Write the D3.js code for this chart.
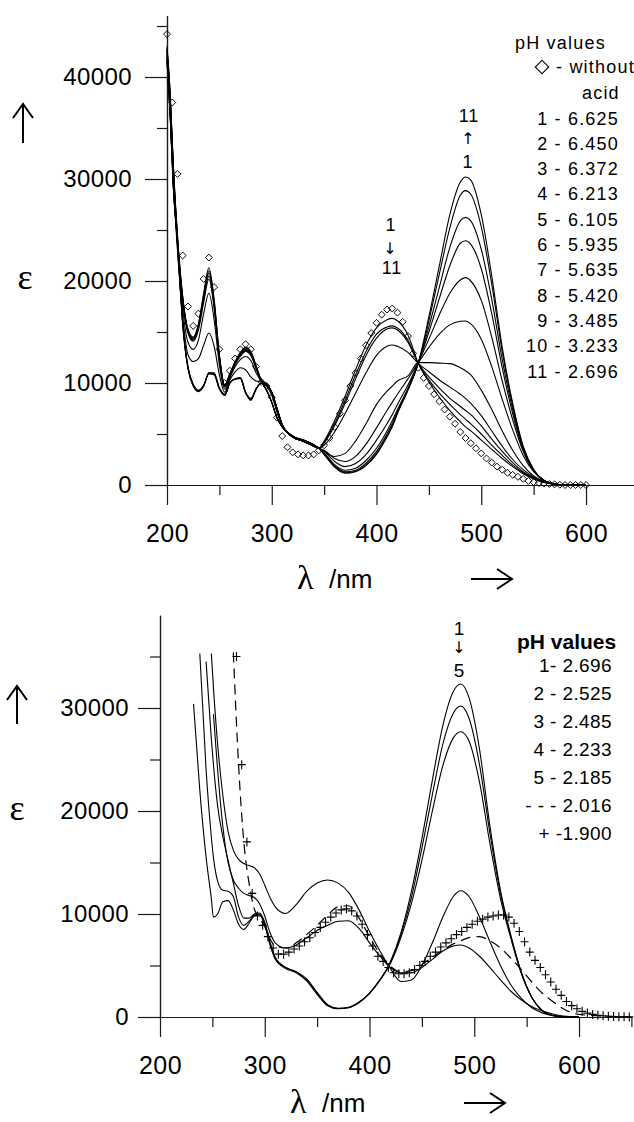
<!DOCTYPE html>
<html><head><meta charset="utf-8">
<script src="https://cdnjs.cloudflare.com/ajax/libs/d3/7.8.5/d3.min.js"></script>
<style>body{margin:0;background:#fff}svg{display:block}</style>
</head><body>
<svg id="c" width="634" height="1122"></svg>
<script>
// ---------------- TOP CHART DATA ----------------
const topWavelengths = [200,203,206,210,215,220,225,230,235,240,245,250,255,260,265,270,275,280,285,290,295,300,305,310,320,330,340,345,
  350,360,370,380,390,400,410,415,420,430,440,450,460,470,480,485,490,500,510,520,530,540,550,560,570,580,590,600];
const top1 = [43000,38500,31500,24500,18500,15300,14500,15800,18800,21300,18200,12800,9800,10900,12100,13000,13500,13100,11700,10300,9900,9100,7500,5900,4700,4300,3800,3600,
  4300,6300,8700,11300,13700,15400,16200,16340,16100,14700,11900,10100,8600,7300,6200,5700,5300,4400,3500,2600,1800,1100,600,250,80,0,0,0];
const top2 = [42800,38300,31300,24300,18400,15200,14400,15700,18600,21000,18000,12700,9800,10900,12000,12900,13400,13000,11700,10300,9900,9100,7500,5900,4700,4300,3800,3600,
  4200,6000,8300,10800,13100,14800,15500,15600,15400,14200,11900,10300,9000,7900,6900,6450,6000,5000,3900,2900,1950,1200,650,280,90,0,0,0];
const top3 = [42700,38200,31200,24200,18300,15100,14300,15600,18400,20800,17800,12600,9800,10800,12000,12800,13300,12900,11600,10300,9900,9100,7500,5900,4700,4300,3800,3600,
  4100,5800,8000,10400,12700,14400,15300,15400,15200,14000,11900,10600,9500,8500,7700,7300,6900,5800,4500,3300,2200,1300,700,300,100,0,0,0];
const top4 = [42600,38000,31000,24000,18200,15000,14200,15400,18200,20500,17600,12500,9700,10700,11900,12700,13200,12800,11500,10200,9900,9100,7500,5900,4700,4300,3800,3600,
  3900,5200,7000,9000,11000,12700,13600,13730,13600,13000,11900,11100,10300,9600,8900,8500,8000,6800,5300,3800,2500,1500,800,350,120,0,0,0];
const top5 = [42400,37800,30800,23800,18000,14900,14100,15200,17900,20200,17300,12300,9600,10700,11800,12600,13100,12700,11400,10200,9900,9100,7500,5900,4700,4300,3800,3600,
  3300,2800,3100,4300,6000,7900,9200,9700,10200,10700,12000,12000,11950,11900,11500,11200,10800,9300,7400,5300,3400,1900,900,350,100,0,0,0];
const top6 = [42200,37300,30300,23300,17300,14000,13300,14200,16800,18800,16200,11800,9400,10500,11600,12300,12600,12200,11000,10200,9800,9000,7300,5900,4800,4400,3900,3600,
  3400,2600,2300,2800,4000,5600,7300,8100,8900,10400,12000,13500,14800,15700,16050,16080,15800,14300,11600,8400,5400,2900,1300,450,100,0,0,0];
const top7 = [42000,37000,29800,23000,16500,12800,12100,12400,13700,14900,13600,10800,9100,10300,11100,11500,11300,10600,10200,10100,9700,8800,7100,5800,4800,4400,3900,3600,
  3300,2300,1800,2100,3000,4400,6000,6900,7900,9800,12000,14300,16700,18800,20100,20330,20000,18100,14500,10200,6400,3300,1400,450,100,0,0,0];
const top8 = [41800,36500,29500,24000,16000,11600,9900,9300,9800,10900,10800,9500,8900,10000,10400,10450,9100,8500,9400,10000,9300,8100,6600,5700,4750,4400,3950,3600,
  3150,2000,1450,1650,2400,3600,5300,6300,7400,9500,12000,15000,18300,21500,23700,23950,23600,21200,16800,11500,7000,3500,1400,450,100,0,0,0];
const top9 = [41700,36400,29400,23900,15900,11500,9800,9200,9700,10900,10800,9400,8800,10000,10400,10450,9000,8400,9400,10000,9300,8100,6600,5700,4750,4400,3950,3600,
  3100,1900,1300,1450,2150,3300,5000,6000,7200,9400,12000,15500,19400,23300,25900,26240,25900,23100,18200,12300,7400,3600,1500,450,100,0,0,0];
const top10 = [41600,36300,29300,23800,15800,11500,9800,9200,9700,11000,10900,9500,8800,10000,10400,10500,9100,8400,9400,10000,9300,8100,6600,5700,4750,4400,3950,3600,
  3000,1800,1200,1350,2000,3100,4800,5800,7100,9300,12000,16100,20700,25200,28400,28860,28500,25300,19700,13100,7800,3700,1500,400,100,0,0,0];
const top11 = [41500,36200,29200,23700,15700,11400,9700,9150,9700,11000,11000,9500,8800,10000,10400,10500,9100,8300,9400,10000,9300,8100,6600,5700,4750,4400,3950,3600,
  3000,1750,1150,1300,1900,3000,4700,5700,7000,9300,12000,16500,21500,26500,29700,30200,29900,26500,20500,13500,8000,3800,1500,400,100,0,0,0];
const topSeries = [top1,top2,top3,top4,top5,top6,top7,top8,top9,top10,top11];

// "without acid" (diamonds)
const noAcidWavelengths = [200,205,210,215,220,225,230,235,240,245,250,255,260,265,270,275,280,285,290,295,
  300,305,310,315,320,325,330,335,340,345,350,355,360,365,370,375,380,385,390,395,
  400,405,410,415,420,425,430,435,440,445,450,455,460,465,470,475,480,485,490,495,
  500,505,510,515,520,525,530,535,540,545,550,555,560,565,570,575,580,585,590,595,600];
const noAcidValues = [44200,37500,30500,22500,17500,15600,16800,20200,22300,19400,
  13300,10000,11200,12400,13300,13800,13300,11600,10100,9700,
  8600,6600,4800,3700,3200,3000,2900,2900,3000,3400,
  3900,4600,5700,7000,8300,9700,11000,12400,13700,14900,
  15900,16700,17200,17300,16900,16000,14600,12900,11500,10500,
  9700,8900,8200,7400,6700,6000,5200,4600,4100,3600,
  3100,2600,2200,1800,1500,1200,1000,800,600,400,
  280,200,150,100,60,30,0,0,0,0,0];

const topLegendTitle = "pH values";
const topLegendItems = ["1 - 6.625","2 - 6.450","3 - 6.372","4 - 6.213","5 - 6.105","6 - 5.935","7 - 5.635","8 - 5.420","9 - 3.485","10 - 3.233","11 - 2.696"];
const topYMajor = [0,10000,20000,30000,40000];
const topYMinor = [5000,15000,25000,35000,45000];

// ---------------- BOTTOM CHART DATA ----------------
const botWavelengths = [232,238,244,249,251,255,260,265,270,275,280,285,290,295,300,305,310,320,330,340,350,360,370,380,390,400,410,420,430,440,450,460,470,480,487,495,505,515,525,535,545,555,565,575,585,600,650];
const bot1 = [30400,22000,15500,11500,9700,10000,11200,11300,10400,9000,8500,9100,9800,9900,8900,7000,5600,4700,4300,3500,2200,1100,800,900,1400,2300,3600,5400,8200,12200,17300,23000,28300,31600,32330,31000,26000,18500,12300,7900,4300,1900,600,150,30,0,null];
const bot2 = [null,35300,24000,17500,15500,13200,12300,12200,11700,9700,8900,9300,9900,10000,9000,7100,5700,4800,4400,3600,2300,1150,820,900,1400,2300,3600,5300,8000,11600,16400,21600,26500,29500,30190,29000,24500,17800,12000,7800,4300,1900,620,150,30,0,null];
const bot3 = [null,null,34500,27000,24500,20500,17500,15200,13000,10800,9600,9600,10000,10100,9200,7300,5800,4800,4400,3700,2400,1200,850,950,1450,2300,3600,5200,7700,11000,15200,20000,24400,27100,27700,26800,22800,16800,11500,7600,4200,1900,620,150,30,0,null];
const bot4 = [null,null,null,35300,32000,26500,21500,18000,16200,15300,14900,14700,14500,13900,12800,11600,10700,10050,10900,12200,13000,13300,13000,12100,10400,8300,6400,4700,3450,3600,5000,7200,9700,11700,12260,11700,9700,7300,5000,3100,1800,900,400,130,30,0,null];
const bot5 = [null,null,null,null,29400,24000,18500,15000,13300,12500,12000,11800,11600,11000,9800,8200,7200,6700,7000,7700,8400,8900,9300,9350,8600,7200,5900,4800,4300,4300,4800,5600,6400,6900,6990,6700,5900,4800,3600,2500,1650,1000,600,300,100,0,null];
const botDashed = [null,null,null,null,null,null,null,null,35400,24500,17000,13000,10500,9600,8800,7600,6900,6700,7200,8000,8900,9900,10700,10800,9600,7800,6100,4900,4400,4500,5100,5800,6500,7100,7400,7700,7800,7400,6700,5700,4600,3400,2300,1500,800,250,0];
const botSolid = [bot1,bot2,bot3,bot4,bot5];

const plusWavelengths = [273,278,283,288,293,298,303,308,313,318,323,328,333,338,343,348,353,358,363,368,
  373,378,383,388,393,398,403,408,413,418,423,428,433,438,443,448,453,458,463,468,
  473,478,483,488,493,498,503,508,513,518,523,528,533,538,543,548,553,558,563,568,
  573,578,583,588,593,598,603,608,613,618,623,628,633,638,643,648];
const plusValues = [35000,24500,17000,12000,9800,8900,7800,6700,6100,6100,6300,6600,6900,7300,7700,8200,8700,9200,9700,10100,
  10400,10500,10300,9800,9000,8000,6900,5900,5400,4800,4300,4200,4200,4300,4600,5000,5400,5900,6300,6800,
  7200,7600,8000,8300,8700,9000,9300,9500,9700,9800,9900,9900,9700,9100,8300,7300,6300,5500,4800,4100,
  3400,2700,2100,1500,1100,800,550,380,250,170,120,80,50,30,20,10];

const botLegendTitle = "pH values";
const botLegendItems = ["1- 2.696","2 - 2.525","3 - 2.485","4 - 2.233","5 - 2.185","- - - 2.016","+ -1.900"];
const botYMajor = [0,10000,20000,30000];
const botYMinor = [5000,15000,25000,35000];

const xMajor = [200,300,400,500,600];
const xMinor = [250,350,450,550,650];

// ---------------- DRAWING ----------------
const SANS = "'Liberation Sans', Arial, sans-serif";
const SERIF = "'Liberation Serif', 'Times New Roman', serif";
const svg = d3.select("#c");

function drawAxes(g, x, y, yMaj, yMin, yPad) {
  const y0 = y.range()[0];
  const x0 = x.range()[0];
  const gx = g.append("g").attr("transform", `translate(0,${y0})`)
    .call(d3.axisBottom(x).tickValues(xMajor).tickSize(20).tickPadding(19).tickSizeOuter(0).tickFormat(d3.format("d")));
  g.append("g").attr("transform", `translate(0,${y0})`)
    .call(d3.axisBottom(x).tickValues(xMinor).tickSize(10).tickSizeOuter(0).tickFormat(""));
  g.append("g").attr("transform", `translate(${x0},0)`)
    .call(d3.axisLeft(y).tickValues(yMaj).tickSize(22).tickPadding(yPad).tickSizeOuter(0).tickFormat(d3.format("d")));
  g.append("g").attr("transform", `translate(${x0},0)`)
    .call(d3.axisLeft(y).tickValues(yMin).tickSize(10).tickSizeOuter(0).tickFormat(""));
  g.selectAll(".domain, .tick line").attr("stroke", "#1a1a1a").attr("stroke-width", 1.2);
  g.selectAll(".tick text").attr("font-family", SANS).attr("font-size", 24).attr("fill", "#000").attr("letter-spacing", 0.4);
  gx.selectAll(".tick text").attr("font-size", 25);
}

function upArrow(g, cx, top, bottom) {
  g.append("path").attr("d", d3.line()([[cx, bottom], [cx, top]])).attr("stroke", "#000").attr("stroke-width", 2).attr("fill", "none");
  g.append("path").attr("d", d3.line()([[cx - 10, top + 14], [cx, top], [cx + 10, top + 14]])).attr("stroke", "#000").attr("stroke-width", 2).attr("fill", "none");
}
function rightArrow(g, left, right, cy) {
  g.append("path").attr("d", d3.line()([[left, cy], [right, cy]])).attr("stroke", "#000").attr("stroke-width", 2).attr("fill", "none");
  g.append("path").attr("d", d3.line()([[right - 15, cy - 10], [right, cy], [right - 15, cy + 10]])).attr("stroke", "#000").attr("stroke-width", 2).attr("fill", "none");
}
function axisTitles(g, x, y, dy) {
  const ox = x.range()[0], oy = y.range()[0];
  g.append("text").attr("x", ox + 130).attr("y", oy + dy + 10).attr("font-family", SERIF).attr("font-size", 34).text("λ");
  g.append("text").attr("x", ox + 162).attr("y", oy + dy + 9).attr("font-family", SANS).attr("font-size", 26).text("/nm");
  rightArrow(g, ox + 304, ox + 345, oy + dy);
}

// ===== TOP =====
const gT = svg.append("g");
const xT = d3.scaleLinear().domain([200, 650]).range([167, 638.4]);
const yT = d3.scaleLinear().domain([0, 46000]).range([485, 15.8]);
drawAxes(gT, xT, yT, topYMajor, topYMinor, 13);

const lineT = d3.line().x((d, i) => xT(topWavelengths[i])).y(d => yT(d)).curve(d3.curveMonotoneX);
gT.append("g").selectAll("path").data(topSeries).join("path")
  .attr("d", lineT).attr("fill", "none").attr("stroke", "#000").attr("stroke-width", 1.1);

const diamond = d3.symbol().type(d3.symbolSquare).size(24);
gT.append("g").selectAll("path").data(noAcidValues).join("path")
  .attr("d", diamond)
  .attr("transform", (d, i) => `translate(${xT(noAcidWavelengths[i])},${yT(d)}) rotate(45)`)
  .attr("fill", "none").attr("stroke", "#000").attr("stroke-width", 0.9);

// y title, arrows
gT.append("text").attr("x", 25).attr("y", 289).attr("text-anchor", "middle").attr("font-family", SERIF).attr("font-size", 36).text("ε");
upArrow(gT, 23, 104, 143);
axisTitles(gT, xT, yT, 94);

// top legend
const legT = gT.append("g").attr("font-family", SANS).attr("font-size", 18).attr("letter-spacing", 1.2).attr("fill", "#000");
legT.append("text").attr("x", 515).attr("y", 49).text(topLegendTitle);
legT.append("path").attr("d", d3.symbol().type(d3.symbolSquare).size(90)).attr("transform", "translate(542,67) rotate(45)")
  .attr("fill", "none").attr("stroke", "#000").attr("stroke-width", 1.1);
legT.append("text").attr("x", 556).attr("y", 73).text("- without");
legT.append("text").attr("x", 582).attr("y", 99).text("acid");
legT.selectAll("text.item").data(topLegendItems).join("text").attr("class", "item")
  .attr("x", 619).attr("y", (d, i) => 124.5 + i * 25.3).attr("text-anchor", "end").text(d => d);

// annotations
const annT = gT.append("g").attr("font-family", SANS).attr("font-size", 18).attr("text-anchor", "middle").attr("letter-spacing", 1);
annT.append("text").attr("x", 469).attr("y", 122).text("11");
annT.append("text").attr("x", 468).attr("y", 144).attr("font-family", "'DejaVu Sans', sans-serif").attr("font-size", 16).attr("letter-spacing", 0).text("↑");
annT.append("text").attr("x", 468).attr("y", 168).text("1");
annT.append("text").attr("x", 391).attr("y", 231).text("1");
annT.append("text").attr("x", 390).attr("y", 254).attr("font-family", "'DejaVu Sans', sans-serif").attr("font-size", 16).attr("letter-spacing", 0).text("↓");
annT.append("text").attr("x", 392).attr("y", 274).text("11");

// ===== BOTTOM =====
const gB = svg.append("g");
const xB = d3.scaleLinear().domain([200, 650]).range([160, 631.4]);
const yB = d3.scaleLinear().domain([0, 39000]).range([1017, 615.3]);
drawAxes(gB, xB, yB, botYMajor, botYMinor, 9);

const lineB = d3.line().defined(d => d != null).x((d, i) => xB(botWavelengths[i])).y(d => yB(d)).curve(d3.curveMonotoneX);
gB.append("g").selectAll("path").data(botSolid).join("path")
  .attr("d", lineB).attr("fill", "none").attr("stroke", "#000").attr("stroke-width", 1.1);
gB.append("path").datum(botDashed).attr("d", lineB).attr("fill", "none").attr("stroke", "#000")
  .attr("stroke-width", 1.2).attr("stroke-dasharray", "10,6");

gB.append("g").selectAll("path").data(plusValues).join("path")
  .attr("d", "M-4,0H4M0,-4.5V4.5")
  .attr("transform", (d, i) => `translate(${xB(plusWavelengths[i])},${yB(d)})`)
  .attr("fill", "none").attr("stroke", "#000").attr("stroke-width", 1.1);

gB.append("text").attr("x", 17).attr("y", 820).attr("text-anchor", "middle").attr("font-family", SERIF).attr("font-size", 36).text("ε");
upArrow(gB, 17, 686, 724);
axisTitles(gB, xB, yB, 86);

const legB = gB.append("g").attr("font-family", SANS).attr("fill", "#000");
legB.append("text").attr("x", 517).attr("y", 649).attr("font-size", 21).attr("font-weight", "bold").text(botLegendTitle);
legB.selectAll("text.item").data(botLegendItems).join("text").attr("class", "item")
  .attr("x", 612).attr("y", (d, i) => 672 + i * 28).attr("text-anchor", "end").attr("font-size", 19).attr("letter-spacing", 0.4).text(d => d);

const annB = gB.append("g").attr("font-family", SANS).attr("font-size", 19).attr("text-anchor", "middle");
annB.append("text").attr("x", 459).attr("y", 635).text("1");
annB.append("text").attr("x", 459).attr("y", 653).attr("font-family", "'DejaVu Sans', sans-serif").attr("font-size", 16).text("↓");
annB.append("text").attr("x", 459).attr("y", 677).text("5");
</script>
</body></html>
